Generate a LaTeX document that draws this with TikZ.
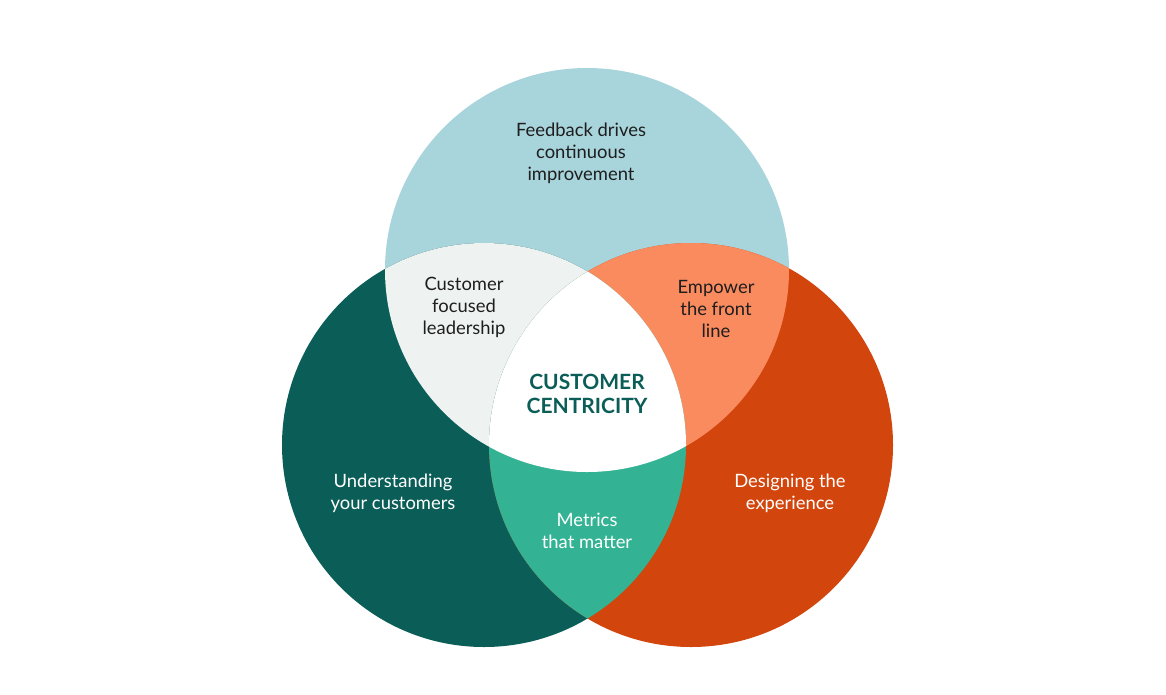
\documentclass[tikz,border=0pt]{standalone}
\usepackage{fontspec}
\setmainfont{Lato}
\definecolor{topblue}{HTML}{A8D4DB}
\definecolor{darkteal}{HTML}{0B5E57}
\definecolor{rustorange}{HTML}{D2450D}
\definecolor{paleleft}{HTML}{EEF3F2}
\definecolor{salmon}{HTML}{FA8B5F}
\definecolor{midgreen}{HTML}{33B393}
\definecolor{darktext}{HTML}{1E1E1E}
\begin{document}
\begin{tikzpicture}[x=1pt,y=-1pt,
  lbl/.style={align=center,font=\fontsize{18.4}{22}\selectfont,inner sep=0pt},
  darklbl/.style={lbl,text=darktext},
  lightlbl/.style={lbl,text=white},
  centerlbl/.style={align=center,font=\fontsize{21}{24}\selectfont\bfseries,text=darkteal,inner sep=0pt}]
\useasboundingbox[fill=white] (0,0) rectangle (1166,694);
\def\R{202}
\coordinate (ct) at (587,270);
\coordinate (cl) at (484,445);
\coordinate (cr) at (691,445);
% base circles
\fill[topblue] (ct) circle (\R);
\fill[darkteal] (cl) circle (\R);
\fill[rustorange] (cr) circle (\R);
% pairwise intersections
\begin{scope}
  \clip (ct) circle (\R);
  \fill[paleleft] (cl) circle (\R);
\end{scope}
\begin{scope}
  \clip (ct) circle (\R);
  \fill[salmon] (cr) circle (\R);
\end{scope}
\begin{scope}
  \clip (cl) circle (\R);
  \fill[midgreen] (cr) circle (\R);
\end{scope}
% triple intersection
\begin{scope}
  \clip (ct) circle (\R);
  \clip (cl) circle (\R);
  \fill[white] (cr) circle (\R);
\end{scope}
% labels
\node[darklbl] (feedback) at (581,153) {Feedback drives\\continuous\\improvement};
\node[darklbl] (leader) at (464,307) {Customer\\focused\\leadership};
\node[darklbl] (empower) at (716,309) {Empower\\the front\\line};
\node[centerlbl] (centric) at (587,394) {CUSTOMER\\CENTRICITY};
\node[lightlbl] (underst) at (393,493) {Understanding\\your customers};
\node[lightlbl] (design) at (790,493) {Designing the\\experience};
\node[lightlbl] (metrics) at (587,531) {Metrics\\that matter};
\end{tikzpicture}
\end{document}
